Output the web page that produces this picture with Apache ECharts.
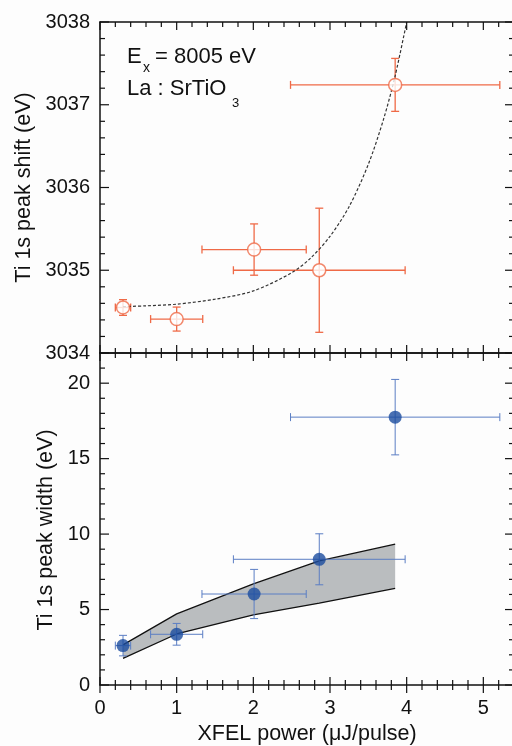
<!DOCTYPE html>
<html>
<head>
<meta charset="utf-8">
<script src="https://cdn.jsdelivr.net/npm/echarts@6/dist/echarts.min.js"></script>
<style>
html, body { margin: 0; background: #fdfdfd; }
#container { width: 512px; height: 746px; }
</style>
</head>
<body>
<div id="container"></div>
<script>
// XFEL power per shot and its spread (x error)
var powerX = [0.3, 1.0, 2.01, 2.86, 3.85];
var powerErr = [0.1, 0.34, 0.68, 1.12, 1.365];
// Ti 1s peak shift (eV), open circles
var shiftY = [3034.55, 3034.41, 3035.25, 3035.0, 3037.24];
var shiftErr = [0.095, 0.145, 0.31, 0.75, 0.32];
// Ti 1s peak width (eV), filled circles
var widthY = [2.61, 3.36, 6.03, 8.33, 17.75];
var widthErr = [0.68, 0.72, 1.63, 1.69, 2.5];
// dashed guide curve
var fitX = [0.3, 0.6, 1.0, 1.5, 2.0, 2.5, 2.75, 3.0, 3.25, 3.5, 3.7, 3.85, 4.0];
var fitY = [3034.56, 3034.57, 3034.59, 3034.65, 3034.75, 3034.97, 3035.15, 3035.41, 3035.77, 3036.28, 3036.83, 3037.35, 3038.0];
// grey simulation band
var bandX = [0.3, 1.0, 2.0, 2.86, 3.85];
var bandUpper = [2.66, 4.71, 6.70, 8.22, 9.33];
var bandLower = [1.77, 3.38, 4.64, 5.42, 6.41];

// tick positions
var xMajor = [0, 1, 2, 3, 4, 5];
var xMinor = [0.2, 0.4, 0.6, 0.8, 1.2, 1.4, 1.6, 1.8, 2.2, 2.4, 2.6, 2.8, 3.2, 3.4, 3.6, 3.8, 4.2, 4.4, 4.6, 4.8, 5.2];
var shiftMajor = [3034, 3035, 3036, 3037, 3038];
var shiftMinor = [3034.2, 3034.4, 3034.6, 3034.8, 3035.2, 3035.4, 3035.6, 3035.8, 3036.2, 3036.4, 3036.6, 3036.8, 3037.2, 3037.4, 3037.6, 3037.8];
var widthMajor = [0, 5, 10, 15, 20];
var widthMinor = [1, 2, 3, 4, 6, 7, 8, 9, 11, 12, 13, 14, 16, 17, 18, 19, 21];

var FONT = 'Liberation Sans, Arial, sans-serif';
var INK = '#111';
var RED = '#ef6a47';
var BLUE = '#1b4c9f';
var BLUE_ERR = '#5b7ec4';

function plain(v) { return String(v); }
var nameStyle = {color: INK, fontSize: 21.5, fontFamily: FONT};

function axis(min, max, grid, pos, step, extra) {
    var a = {
        type: 'value', gridIndex: grid, position: pos,
        min: min, max: max, interval: step,
        axisLine: {show: true, onZero: false, lineStyle: {color: INK, width: 1.5}},
        axisTick: {show: false},
        axisLabel: {show: false},
        splitLine: {show: false}
    };
    for (var k in extra) a[k] = extra[k];
    return a;
}

var xAxes = [
    axis(0, 5.4, 0, 'bottom', 1, {}),
    axis(0, 5.4, 0, 'top', 1, {}),
    axis(0, 5.4, 1, 'bottom', 1, {
        axisLabel: {show: true, color: INK, fontSize: 20, fontFamily: FONT, margin: 13, showMaxLabel: false, formatter: plain},
        name: 'XFEL power (μJ/pulse)', nameLocation: 'middle', nameGap: 38, nameTextStyle: nameStyle
    }),
    axis(0, 5.4, 1, 'top', 1, {})
];

var yAxes = [
    axis(3034, 3038, 0, 'left', 1, {
        axisLabel: {show: true, color: INK, fontSize: 20, fontFamily: FONT, margin: 10, formatter: plain},
        name: 'Ti 1s peak shift (eV)', nameLocation: 'middle', nameGap: 50, nameTextStyle: nameStyle
    }),
    axis(3034, 3038, 0, 'right', 1, {}),
    axis(0, 22, 1, 'left', 5, {
        axisLabel: {show: true, color: INK, fontSize: 20, fontFamily: FONT, margin: 10, showMaxLabel: false, formatter: plain},
        name: 'Ti 1s peak width (eV)', nameLocation: 'middle', nameGap: 29,
        nameTextStyle: {color: INK, fontSize: 21.5, fontFamily: FONT, padding: [0, 22, 0, 0]}
    }),
    axis(0, 22, 1, 'right', 5, {})
];

// frame ticks: drawn at the tick values through the axes' own scale
function tickData(major, minor) {
    return major.map(function (v) { return [v, 1]; }).concat(minor.map(function (v) { return [v, 0]; }));
}
function xTicks(xIdx, yIdx, yRef, major, minor, crossBottom) {
    return {
        type: 'custom', xAxisIndex: xIdx, yAxisIndex: yIdx, z: 5, silent: true,
        data: tickData(major, minor), encode: {x: 0},
        renderItem: function (params, api) {
            var cs = params.coordSys;
            var px = api.coord([api.value(0), yRef])[0];
            var len = api.value(1) ? 8 : 5;
            var st = {stroke: INK, lineWidth: 1.2};
            var top = cs.y, bottom = cs.y + cs.height;
            var kids = [
                {type: 'line', shape: {x1: px, y1: top, x2: px, y2: top + len}, style: st},
                {type: 'line', shape: {x1: px, y1: bottom, x2: px, y2: bottom - len}, style: st}
            ];
            if (crossBottom) kids.push({type: 'line', shape: {x1: px, y1: bottom, x2: px, y2: bottom + len}, style: st});
            return {type: 'group', children: kids};
        }
    };
}
function yTicks(xIdx, yIdx, major, minor) {
    return {
        type: 'custom', xAxisIndex: xIdx, yAxisIndex: yIdx, z: 5, silent: true,
        data: tickData(major, minor), encode: {y: 0},
        renderItem: function (params, api) {
            var cs = params.coordSys;
            var py = api.coord([0, api.value(0)])[1];
            var len = api.value(1) ? 9 : 5;
            var st = {stroke: INK, lineWidth: 1.2};
            var left = cs.x, right = cs.x + cs.width;
            return {type: 'group', children: [
                {type: 'line', shape: {x1: left, y1: py, x2: left + len, y2: py}, style: st},
                {type: 'line', shape: {x1: right, y1: py, x2: right - len, y2: py}, style: st}
            ]};
        }
    };
}

function errorBars(color, width, cap) {
    return function (params, api) {
        var x = api.value(0), y = api.value(1), dx = api.value(2), dy = api.value(3);
        var l = api.coord([x - dx, y]), r = api.coord([x + dx, y]);
        var t = api.coord([x, y + dy]), b = api.coord([x, y - dy]);
        var st = {stroke: color, lineWidth: width};
        function seg(x1, y1, x2, y2) {
            return {type: 'line', shape: {x1: x1, y1: y1, x2: x2, y2: y2}, style: st};
        }
        return {type: 'group', children: [
            seg(l[0], l[1], r[0], r[1]),
            seg(l[0], l[1] - cap, l[0], l[1] + cap),
            seg(r[0], r[1] - cap, r[0], r[1] + cap),
            seg(t[0], t[1], b[0], b[1]),
            seg(t[0] - cap, t[1], t[0] + cap, t[1]),
            seg(b[0] - cap, b[1], b[0] + cap, b[1])
        ]};
    };
}

function pairs(xs, ys) {
    return xs.map(function (x, i) { return [x, ys[i]]; });
}

var shiftData = powerX.map(function (x, i) { return [x, shiftY[i], powerErr[i], shiftErr[i]]; });
var widthData = powerX.map(function (x, i) { return [x, widthY[i], powerErr[i], widthErr[i]]; });
var bandData = bandX.map(function (x, i) { return [x, bandUpper[i], bandLower[i]]; });

var myChart = echarts.init(document.getElementById('container'));

var option = {
    backgroundColor: '#fdfdfd',
    animation: false,
    grid: [
        {left: 100, top: 22, width: 414, height: 331, outerBoundsMode: 'none'},
        {left: 100, top: 353, width: 414, height: 332, outerBoundsMode: 'none'}
    ],
    xAxis: xAxes,
    yAxis: yAxes,
    graphic: [
        {type: 'text', x: 127, y: 57, style: {text: 'E', fontSize: 22, fontFamily: FONT, fill: INK, verticalAlign: 'middle'}},
        {type: 'text', x: 143, y: 68, style: {text: 'x', fontSize: 14, fontFamily: FONT, fill: INK, verticalAlign: 'middle'}},
        {type: 'text', x: 155, y: 57, style: {text: '= 8005 eV', fontSize: 22, fontFamily: FONT, fill: INK, verticalAlign: 'middle'}},
        {type: 'text', x: 127, y: 89, style: {text: 'La : SrTiO', fontSize: 22, fontFamily: FONT, fill: INK, verticalAlign: 'middle'}},
        {type: 'text', x: 232, y: 103, style: {text: '3', fontSize: 13, fontFamily: FONT, fill: INK, verticalAlign: 'middle'}}
    ],
    series: [
        xTicks(0, 0, 3034, xMajor, xMinor, false),
        yTicks(0, 0, shiftMajor, shiftMinor),
        xTicks(2, 2, 0, xMajor, xMinor, true),
        yTicks(2, 2, widthMajor, widthMinor),
        {
            name: 'fit', type: 'line', xAxisIndex: 0, yAxisIndex: 0,
            data: pairs(fitX, fitY), smooth: 0.3, symbol: 'none', z: 3,
            lineStyle: {color: '#333', width: 1.2, type: [3, 2]}
        },
        {
            name: 'shift err', type: 'custom', xAxisIndex: 0, yAxisIndex: 0,
            data: shiftData, encode: {x: 0, y: 1}, z: 2,
            renderItem: errorBars(RED, 1.3, 4)
        },
        {
            name: 'shift', type: 'scatter', xAxisIndex: 0, yAxisIndex: 0,
            data: pairs(powerX, shiftY), symbol: 'circle', symbolSize: 13, z: 4,
            itemStyle: {color: '#fff', borderColor: RED, borderWidth: 1.5}
        },
        {
            name: 'band', type: 'custom', xAxisIndex: 2, yAxisIndex: 2,
            data: bandData, encode: {x: 0, y: 1}, z: 1,
            renderItem: function (params, api) {
                if (params.dataIndex !== 0) return;
                var pts = [];
                for (var i = 0; i < bandX.length; i++) pts.push(api.coord([bandX[i], bandUpper[i]]));
                for (var j = bandX.length - 1; j >= 0; j--) pts.push(api.coord([bandX[j], bandLower[j]]));
                return {type: 'polygon', shape: {points: pts}, style: {fill: '#babdbf'}};
            }
        },
        {
            name: 'upper', type: 'line', xAxisIndex: 2, yAxisIndex: 2,
            data: pairs(bandX, bandUpper), symbol: 'none', z: 2,
            lineStyle: {color: INK, width: 1.3}
        },
        {
            name: 'lower', type: 'line', xAxisIndex: 2, yAxisIndex: 2,
            data: pairs(bandX, bandLower), symbol: 'none', z: 2,
            lineStyle: {color: INK, width: 1.3}
        },
        {
            name: 'width err', type: 'custom', xAxisIndex: 2, yAxisIndex: 2,
            data: widthData, encode: {x: 0, y: 1}, z: 3,
            renderItem: errorBars(BLUE_ERR, 1, 4)
        },
        {
            name: 'width', type: 'scatter', xAxisIndex: 2, yAxisIndex: 2,
            data: pairs(powerX, widthY), symbol: 'circle', symbolSize: 13, z: 4,
            itemStyle: {color: BLUE}
        }
    ]
};

myChart.setOption(option);
</script>
</body>
</html>
